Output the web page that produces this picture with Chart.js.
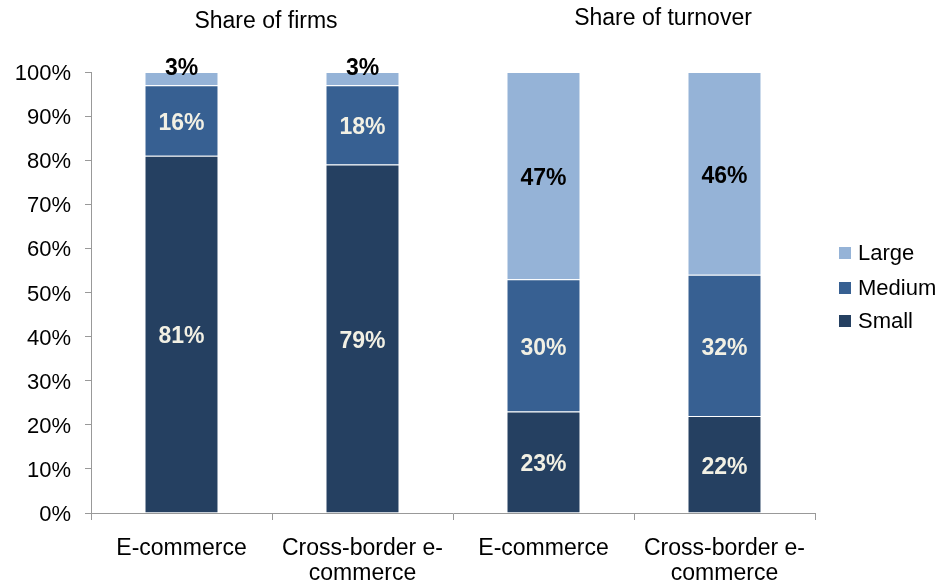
<!DOCTYPE html>
<html>
<head>
<meta charset="utf-8">
<script src="https://cdn.jsdelivr.net/npm/chart.js@4.4.1/dist/chart.umd.min.js"></script>
<style>
  html, body { margin: 0; padding: 0; background: #ffffff; }
  #wrap { width: 944px; height: 585px; position: relative; }
</style>
</head>
<body>
<div id="wrap"><canvas id="chart" width="944" height="585"></canvas></div>
<script>
// Categories along the x axis (two groups of two bars)
const categories = [
  'E-commerce',
  ['Cross-border e-', 'commerce'],
  'E-commerce',
  ['Cross-border e-', 'commerce']
];
// Group headings drawn over each pair of bars
const groupTitles = ['Share of firms', 'Share of turnover'];

// Shares by firm size, in percent
const smallShare  = [81, 79, 23, 22];
const mediumShare = [16, 18, 30, 32];
const largeShare  = [3, 3, 47, 46];

// Y axis tick values
const yTicks = [0, 10, 20, 30, 40, 50, 60, 70, 80, 90, 100];

const COLORS = { small: '#254061', medium: '#376092', large: '#95B3D7' };
const FONT = 'Liberation Sans, Arial, sans-serif';

const valueLabels = {
  id: 'valueLabels',
  afterDatasetsDraw(chart) {
    const ctx = chart.ctx;
    ctx.save();
    ctx.font = 'bold 23px ' + FONT;
    ctx.textAlign = 'center';
    ctx.textBaseline = 'middle';
    chart.data.datasets.forEach((ds, di) => {
      const meta = chart.getDatasetMeta(di);
      meta.data.forEach((bar, i) => {
        const v = ds.data[i];
        const top = Math.min(bar.y, bar.base);
        const bottom = Math.max(bar.y, bar.base);
        let y = (top + bottom) / 2 + 3;
        if (v < 5) y = top - 3;
        ctx.fillStyle = ds.labelColor;
        ctx.fillText(v + '%', bar.x, y);
      });
    });
    ctx.restore();
  }
};

const groupHeadings = {
  id: 'groupHeadings',
  afterDraw(chart) {
    const ctx = chart.ctx;
    const x = chart.scales.x;
    ctx.save();
    ctx.font = '23px ' + FONT;
    ctx.fillStyle = '#000';
    ctx.textAlign = 'center';
    ctx.textBaseline = 'middle';
    const c1 = (x.getPixelForValue(0) + x.getPixelForValue(1)) / 2;
    const c2 = (x.getPixelForValue(2) + x.getPixelForValue(3)) / 2;
    ctx.fillText(groupTitles[0], c1 - 6, 22);
    ctx.fillText(groupTitles[1], c2 + 29, 19);
    ctx.restore();
  }
};

const sideLegend = {
  id: 'sideLegend',
  afterDraw(chart) {
    const ctx = chart.ctx;
    ctx.save();
    ctx.font = '22px ' + FONT;
    ctx.textBaseline = 'middle';
    ctx.textAlign = 'left';
    const order = [2, 1, 0];
    const ys = [253, 288, 321];
    order.forEach((di, k) => {
      const ds = chart.data.datasets[di];
      ctx.fillStyle = ds.backgroundColor;
      ctx.fillRect(839, ys[k] - 6, 12, 12);
      ctx.fillStyle = '#000';
      ctx.fillText(ds.label, 858, ys[k] + 1);
    });
    ctx.restore();
  }
};

const segBorder = { top: 1, bottom: 0, left: 0, right: 0 };

new Chart(document.getElementById('chart'), {
  type: 'bar',
  data: {
    labels: categories,
    datasets: [
      { label: 'Small', data: smallShare, backgroundColor: COLORS.small, labelColor: '#F2F0E4',
        borderColor: 'rgba(255,255,255,0.45)', borderWidth: segBorder, borderSkipped: false },
      { label: 'Medium', data: mediumShare, backgroundColor: COLORS.medium, labelColor: '#F2F0E4',
        borderColor: 'rgba(255,255,255,0.45)', borderWidth: segBorder, borderSkipped: false },
      { label: 'Large', data: largeShare, backgroundColor: COLORS.large, labelColor: '#000000',
        borderColor: 'rgba(255,255,255,0.45)', borderWidth: segBorder, borderSkipped: false }
    ]
  },
  options: {
    responsive: false,
    animation: false,
    devicePixelRatio: 1,
    categoryPercentage: 1.0,
    barPercentage: 0.4,
    layout: { padding: { top: 72, right: 129, left: 0, bottom: 0 } },
    plugins: {
      legend: { display: false },
      tooltip: { enabled: false },
      title: { display: false }
    },
    scales: {
      x: {
        stacked: true,
        border: { display: true, color: '#999999', width: 1 },
        grid: { display: true, drawOnChartArea: false, drawTicks: true, tickLength: 7, color: '#999999', offset: true },
        ticks: { color: '#000', font: { family: FONT, size: 23, lineHeight: 1.1 }, padding: 16, maxRotation: 0, autoSkip: false },
        afterFit(scale) { scale.height = 72; }
      },
      y: {
        stacked: true,
        min: 0,
        max: 100,
        afterBuildTicks(scale) { scale.ticks = yTicks.map(v => ({ value: v })); },
        border: { display: true, color: '#999999', width: 1 },
        grid: { display: true, drawOnChartArea: false, drawTicks: true, tickLength: 6, color: '#999999' },
        ticks: { color: '#000', font: { family: FONT, size: 22 }, padding: 14, labelOffset: 2, callback: v => v + '%' },
        afterFit(scale) { scale.width = 91; }
      }
    }
  },
  plugins: [valueLabels, groupHeadings, sideLegend]
});
</script>
</body>
</html>
